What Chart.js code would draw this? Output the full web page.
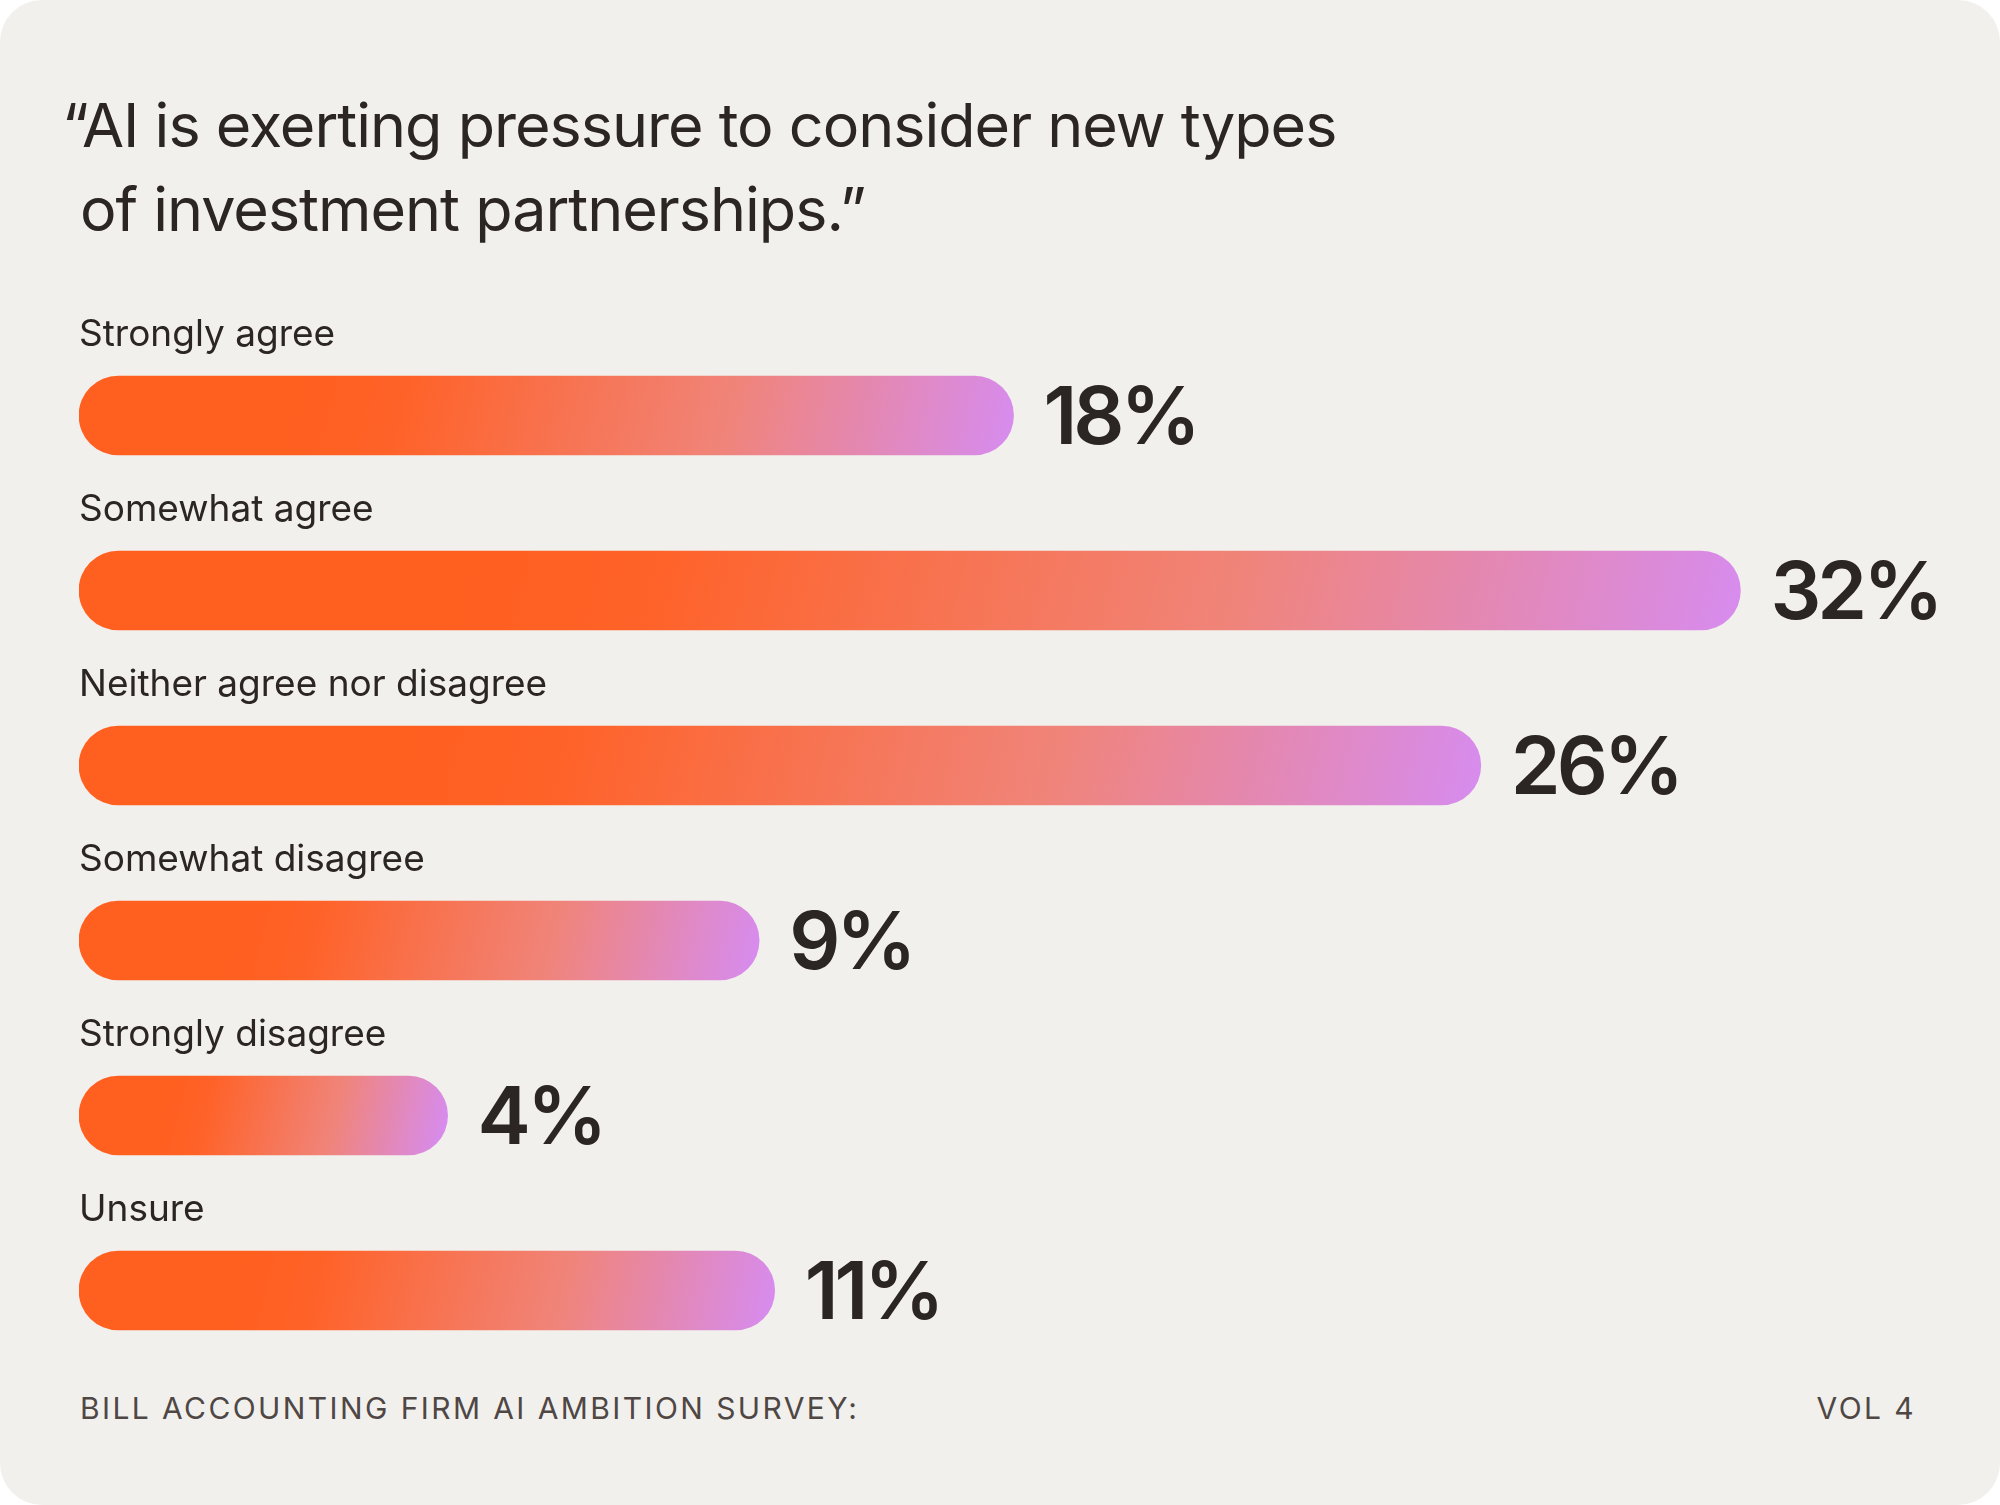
<!DOCTYPE html>
<html><head><meta charset="utf-8">
<script src="https://cdn.jsdelivr.net/npm/chart.js@4"></script>
<style>
html,body{margin:0;padding:0;background:#fff;}
#card{position:absolute;left:0;top:0;width:2000px;height:1505px;background:#f2f0ed;border-radius:42px;overflow:hidden;font-family:Inter,"Open Sans",sans-serif;color:#2b2523;}
.t{position:absolute;font-size:61px;letter-spacing:-1px;white-space:nowrap;}
.f{position:absolute;font-size:30px;letter-spacing:2.4px;color:#4f4744;top:1390px;}
#wrap{position:absolute;left:79px;top:228px;width:1921px;height:1150px;}
</style></head><body>
<div id="card">
<div class="t" style="left:62px;top:88px">“AI is exerting pressure to consider new types</div>
<div class="t" style="left:80px;top:172px">of investment partnerships.”</div>
<div id="wrap"><canvas id="c"></canvas></div>
<div class="f" style="left:80px">BILL ACCOUNTING FIRM AI AMBITION SURVEY:</div>
<div class="f" style="right:84px">VOL 4</div>
</div>
<script>
const categories=["Strongly agree","Somewhat agree","Neither agree nor disagree","Somewhat disagree","Strongly disagree","Unsure"];
const percentLabels=[18,32,26,9,4,11];
// drawn bar lengths (small bars are not proportional in the original)
const barLengths=[18,32,27,13.1,7.1,13.4];

const labelPlugin={id:'lbl',afterDatasetsDraw(chart){
  const ctx=chart.ctx;const meta=chart.getDatasetMeta(0);
  meta.data.forEach((b,i)=>{
    ctx.save();
    ctx.fillStyle='#2b2523';ctx.textBaseline='middle';ctx.textAlign='left';
    ctx.font='400 37px Inter, sans-serif';
    ctx.fillText(categories[i],0,b.y-81);
    ctx.font='600 80px Inter, sans-serif';
    if('letterSpacing' in ctx) ctx.letterSpacing='-4px';
    ctx.fillText(percentLabels[i]+'%',b.x+30,b.y+4);
    ctx.restore();
  });
}};
new Chart(document.getElementById('c'),{
  type:'bar',
  data:{labels:categories,datasets:[{data:barLengths,
    backgroundColor:(c)=>{
      const ch=c.chart;
      if(!ch.chartArea||!ch.scales.x)return '#ff5f1f';
      const x0=ch.scales.x.getPixelForValue(0);
      const x1=ch.scales.x.getPixelForValue(barLengths[c.dataIndex]);
      const y=ch.scales.y.getPixelForValue(c.dataIndex);
      const w=x1-x0;
      const g=ch.ctx.createLinearGradient(x0+w*0.25,y-w*0.12,x1,y+w*0.06);
      g.addColorStop(0,'#ff5f1f');g.addColorStop(0.15,'#ff6228');
      g.addColorStop(0.6,'#f0847a');g.addColorStop(1,'#d68cf2');
      return g;},
    borderRadius:40,borderSkipped:false,barThickness:79}]},
  options:{indexAxis:'y',responsive:true,maintainAspectRatio:false,animation:false,
    layout:{padding:{top:100,left:0,right:0,bottom:0}},
    plugins:{legend:{display:false},tooltip:{enabled:false}},
    scales:{x:{display:false,min:0,max:37},y:{display:false}}},
  plugins:[labelPlugin]
});
</script></body></html>
